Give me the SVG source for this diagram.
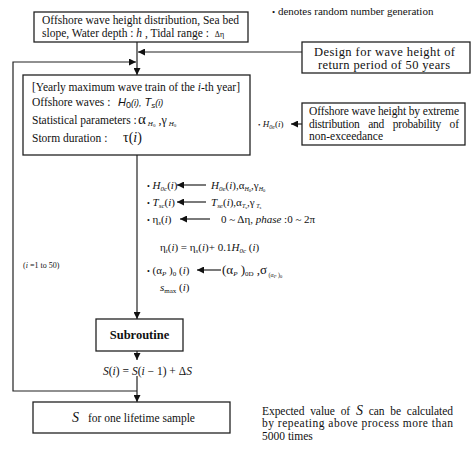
<svg xmlns="http://www.w3.org/2000/svg" width="474" height="455" viewBox="0 0 474 455">
<style>
svg{font-size:11.5px}
text{font-family:"Liberation Serif","Times New Roman",serif;fill:#111}
.box{fill:#fff;stroke:#222;stroke-width:1.3}
.ln{fill:none;stroke:#222;stroke-width:1.2}
.it{font-style:italic}
.sans{font-family:"Liberation Sans",Arial,sans-serif;font-style:italic}
.sub{font-size:7px}
.m{font-size:11px}
</style>
<defs>
<marker id="ah" viewBox="0 0 10 10" refX="10" refY="5" markerWidth="7" markerHeight="7" markerUnits="userSpaceOnUse" orient="auto">
<path d="M0,0 L10,5 L0,10 z" fill="#111"/>
</marker>
</defs>
<rect width="474" height="455" fill="#fff"/>

<g id="connectors">
<line class="ln" x1="137" y1="42" x2="137" y2="75" marker-end="url(#ah)"/>
<line class="ln" x1="302" y1="52" x2="138" y2="52" marker-end="url(#ah)"/>
<polyline class="ln" points="137,391 13,391 13,62 136,62" marker-end="url(#ah)"/>
<line class="ln" x1="302" y1="124" x2="291" y2="124" marker-end="url(#ah)"/>
<line class="ln" x1="137" y1="155" x2="137" y2="319" marker-end="url(#ah)"/>
<line class="ln" x1="137" y1="351" x2="137" y2="360" marker-end="url(#ah)"/>
<line class="ln" x1="137" y1="376" x2="137" y2="402" marker-end="url(#ah)"/>
<line class="ln" x1="206" y1="185" x2="177" y2="185" marker-end="url(#ah)"/>
<line class="ln" x1="206" y1="202" x2="177" y2="202" marker-end="url(#ah)"/>
<line class="ln" x1="210" y1="219" x2="180" y2="219" marker-end="url(#ah)"/>
<line class="ln" x1="221" y1="270" x2="197" y2="270" marker-end="url(#ah)"/>
</g>

<g id="note">
<text x="272" y="15" font-size="11"><tspan font-size="9">•</tspan> denotes random number generation</text>
</g>

<g id="input">
<rect class="box" x="34" y="12" width="214" height="30"/>
<text x="42" y="24" textLength="197">Offshore wave height distribution, Sea bed</text>
<text x="42" y="37">slope, Water depth : <tspan class="it">h</tspan> , Tidal range :  <tspan font-size="8" dx="3">Δη</tspan></text>
</g>

<g id="design">
<rect class="box" x="302" y="42" width="168" height="31"/>
<text x="314" y="56" font-size="12.5" textLength="141">Design for wave height of</text>
<text x="318" y="69" font-size="12.5" textLength="132">return period of 50 years</text>
</g>

<g id="yearly">
<rect class="box" x="23" y="75" width="227" height="80"/>
<text x="32" y="91" textLength="208">[Yearly maximum wave train of the <tspan class="it">i</tspan>-th year]</text>
<text x="32" y="106">Offshore waves :</text>
<text x="118" y="106" class="sans" font-size="11">H<tspan font-style="normal" font-size="9" dy="2">0</tspan><tspan dy="-2" font-size="9">(i),</tspan> T<tspan font-size="8" dy="2">s</tspan><tspan dy="-2" font-size="9">(i)</tspan></text>
<text x="32" y="124">Statistical parameters :</text>
<text x="138" y="124" font-size="15">α<tspan class="it sub" dy="2" dx="2">H</tspan><tspan font-size="5" dy="1">0</tspan><tspan font-size="12" dy="-3"> ,γ</tspan><tspan class="it sub" dy="2" dx="2">H</tspan><tspan font-size="5" dy="1">0</tspan></text>
<text x="32" y="142">Storm duration :</text>
<text x="123" y="142" font-size="14">τ(<tspan class="it">i</tspan>)</text>
</g>

<g id="extreme">
<rect class="box" x="302" y="103" width="163" height="42"/>
<text x="309" y="115" textLength="150">Offshore wave height by extreme</text>
<text x="309" y="128" textLength="150" word-spacing="6">distribution and probability of</text>
<text x="309" y="140">non-exceedance</text>
<text x="258" y="127" font-size="9"><tspan font-size="7">•</tspan> <tspan class="it">H</tspan><tspan class="it" font-size="6" dy="2">0e</tspan><tspan dy="-2">(<tspan class="it">i</tspan>)</tspan></text>
</g>

<g id="randoms">
<text x="147" y="189" class="m"><tspan font-size="8">•</tspan> <tspan class="it">H</tspan><tspan class="it sub" dy="2">0c</tspan><tspan dy="-2">(<tspan class="it">i</tspan>)</tspan></text>
<text x="211" y="189" class="m"><tspan class="it">H</tspan><tspan class="it sub" dy="2">0e</tspan><tspan dy="-2">(<tspan class="it">i</tspan>),α</tspan><tspan class="it" font-size="6" dy="2">H</tspan><tspan font-size="4.5" dy="1">0</tspan><tspan dy="-3">,γ</tspan><tspan class="it" font-size="6" dy="2">H</tspan><tspan font-size="4.5" dy="1">0</tspan></text>

<text x="147" y="206" class="m"><tspan font-size="8">•</tspan> <tspan class="it">T</tspan><tspan class="it sub" dy="2">sc</tspan><tspan dy="-2">(<tspan class="it">i</tspan>)</tspan></text>
<text x="211" y="206" class="m"><tspan class="it">T</tspan><tspan class="it sub" dy="2">se</tspan><tspan dy="-2">(<tspan class="it">i</tspan>),α</tspan><tspan class="it" font-size="6" dy="2">T</tspan><tspan font-size="4.5" dy="1">s</tspan><tspan dy="-3">,γ</tspan><tspan class="it" font-size="6" dy="2"> T</tspan><tspan font-size="4.5" dy="1">s</tspan></text>

<text x="147" y="223" class="m"><tspan font-size="8">•</tspan> η<tspan class="it sub" dy="2">s</tspan><tspan dy="-2">(<tspan class="it">i</tspan>)</tspan></text>
<text x="221" y="223" class="m">0 ~ Δη, <tspan class="it">phase</tspan> :0 ~ 2π</text>

<text x="160" y="251" class="m">η<tspan class="it sub" dy="2">t</tspan><tspan dy="-2">(<tspan class="it">i</tspan>) = η</tspan><tspan class="it sub" dy="2">s</tspan><tspan dy="-2">(<tspan class="it">i</tspan>)+ 0.1<tspan class="it">H</tspan></tspan><tspan class="it sub" dy="2">0c</tspan><tspan dy="-2"> (<tspan class="it">i</tspan>)</tspan></text>

<text x="147" y="274" class="m"><tspan font-size="8">•</tspan> (α<tspan class="it sub" dy="2">P</tspan><tspan dy="-2"> )</tspan><tspan class="sub" dy="2">0</tspan><tspan dy="-2"> (<tspan class="it">i</tspan>)</tspan></text>
<text x="222" y="274" font-size="13">(α<tspan class="it sub" dy="2">P</tspan><tspan dy="-2"> )</tspan><tspan class="sub" dy="2">0D</tspan><tspan dy="-2"> ,σ</tspan><tspan font-size="6" dy="3"> (α</tspan><tspan class="it" font-size="4.5" dy="1">P</tspan><tspan font-size="6" dy="-1"> )</tspan><tspan font-size="4.5" dy="1">0</tspan></text>

<text x="160" y="291" class="m"><tspan class="it">s</tspan><tspan class="sub" dy="2">max</tspan><tspan dy="-2"> (<tspan class="it">i</tspan>)</tspan></text>
</g>

<g id="range">
<text x="23" y="268" font-size="8">(<tspan class="it">i</tspan> =1 to 50)</text>
</g>

<g id="subroutine">
<rect class="box" x="96" y="319" width="87" height="32"/>
<text x="139.5" y="339" text-anchor="middle" font-weight="bold" font-size="12.5">Subroutine</text>
</g>

<g id="update">
<text x="103" y="375" font-size="11.5"><tspan class="it">S</tspan>(<tspan class="it">i</tspan>) = <tspan class="it">S</tspan>(<tspan class="it">i</tspan> − 1) + Δ<tspan class="it">S</tspan></text>
</g>

<g id="result">
<rect class="box" x="33" y="402" width="197" height="31"/>
<text x="72" y="422" font-size="14" class="it">S</text>
<text x="88" y="422">for one lifetime sample</text>
</g>

<g id="expected">
<text x="262" y="415" textLength="191" word-spacing="3">Expected value of <tspan class="it" font-size="14">S</tspan>  can be calculated</text>
<text x="262" y="427" textLength="191">by repeating above process more than</text>
<text x="262" y="440">5000 times</text>
</g>
</svg>
